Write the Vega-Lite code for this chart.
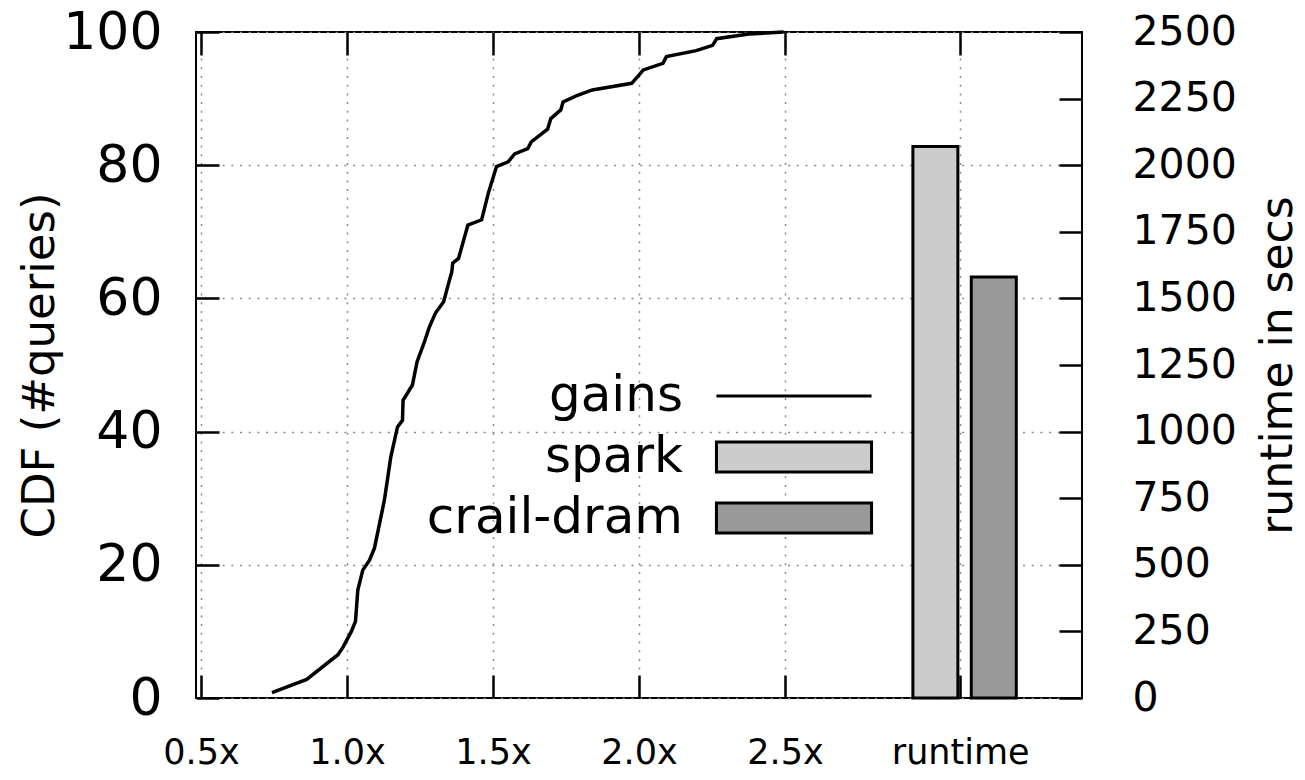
{
  "$schema": "https://vega.github.io/schema/vega-lite/v6.json",
  "width": 886,
  "height": 666,
  "autosize": {"type": "none"},
  "padding": {"left": 196, "top": 32, "right": 223, "bottom": 82},
  "background": "white",
  "config": {
    "font": "DejaVu Sans",
    "view": {"stroke": "black", "strokeWidth": 2},
    "axis": {
      "domain": false,
      "ticks": true,
      "tickColor": "black",
      "tickOpacity": 1,
      "tickWidth": 2.5,
      "gridColor": "#8a8a8a",
      "gridDash": [2, 6.7],
      "gridWidth": 1.5,
      "labelColor": "black",
      "titleColor": "black",
      "titleFontWeight": "normal",
      "labelFont": "DejaVu Sans",
      "titleFont": "DejaVu Sans"
    }
  },
  "datasets": {
    "cdf": [
      {"speedup": 0.743, "cdf": 0.8},
      {"speedup": 0.862, "cdf": 2.8},
      {"speedup": 0.969, "cdf": 6.5},
      {"speedup": 0.986, "cdf": 7.6},
      {"speedup": 1.015, "cdf": 10},
      {"speedup": 1.029, "cdf": 11.5},
      {"speedup": 1.037, "cdf": 16.2},
      {"speedup": 1.054, "cdf": 19.2},
      {"speedup": 1.077, "cdf": 20.7},
      {"speedup": 1.094, "cdf": 22.5},
      {"speedup": 1.128, "cdf": 29.7},
      {"speedup": 1.15, "cdf": 36.2},
      {"speedup": 1.173, "cdf": 40.7},
      {"speedup": 1.19, "cdf": 41.7},
      {"speedup": 1.192, "cdf": 44.7},
      {"speedup": 1.224, "cdf": 47},
      {"speedup": 1.24, "cdf": 50.5},
      {"speedup": 1.263, "cdf": 53.2},
      {"speedup": 1.282, "cdf": 55.7},
      {"speedup": 1.303, "cdf": 57.8},
      {"speedup": 1.331, "cdf": 59.5},
      {"speedup": 1.348, "cdf": 62.3},
      {"speedup": 1.359, "cdf": 64},
      {"speedup": 1.362, "cdf": 65.3},
      {"speedup": 1.382, "cdf": 66},
      {"speedup": 1.414, "cdf": 71},
      {"speedup": 1.461, "cdf": 71.8},
      {"speedup": 1.484, "cdf": 75.8},
      {"speedup": 1.512, "cdf": 79.8},
      {"speedup": 1.552, "cdf": 80.5},
      {"speedup": 1.574, "cdf": 81.7},
      {"speedup": 1.619, "cdf": 82.5},
      {"speedup": 1.631, "cdf": 83.5},
      {"speedup": 1.687, "cdf": 85.4},
      {"speedup": 1.698, "cdf": 87},
      {"speedup": 1.732, "cdf": 88.3},
      {"speedup": 1.74, "cdf": 89.5},
      {"speedup": 1.785, "cdf": 90.4},
      {"speedup": 1.84, "cdf": 91.3},
      {"speedup": 1.975, "cdf": 92.3},
      {"speedup": 2.015, "cdf": 94.3},
      {"speedup": 2.082, "cdf": 95.3},
      {"speedup": 2.094, "cdf": 96.3},
      {"speedup": 2.196, "cdf": 97.2},
      {"speedup": 2.252, "cdf": 98},
      {"speedup": 2.266, "cdf": 99},
      {"speedup": 2.376, "cdf": 99.7},
      {"speedup": 2.495, "cdf": 100}
    ],
    "runtime": [
      {"series": "spark", "pos": 3.015, "runtime": 2070},
      {"series": "crail-dram", "pos": 3.215, "runtime": 1580}
    ]
  },
  "layer": [
    {
      "data": {"name": "cdf"},
      "mark": {"type": "line", "color": "black", "strokeWidth": 3.5},
      "encoding": {
        "x": {
          "field": "speedup",
          "type": "quantitative",
          "scale": {"domain": [0.5, 3.5], "nice": false, "zero": false},
          "axis": {
            "orient": "bottom",
            "title": null,
            "values": [0.5, 1, 1.5, 2, 2.5, 3.1],
            "labelExpr": "datum.value > 3 ? 'runtime' : format(datum.value, '.1f') + 'x'",
            "labelFontSize": 35,
            "labelFlush": false,
            "labelOverlap": false,
            "offset": -23,
            "ticks": true,
            "tickColor": "black",
            "tickSize": 23,
            "labelPadding": 37,
            "grid": true
          }
        },
        "y": {
          "field": "cdf",
          "type": "quantitative",
          "scale": {"domain": [0, 100], "nice": false, "zero": false},
          "axis": {
            "title": "CDF (#queries)",
            "titleFontSize": 45,
            "values": [0, 20, 40, 60, 80, 100],
            "labelFontSize": 52,
            "labelFlush": false,
            "labelOverlap": false,
            "offset": -23,
            "ticks": true,
            "tickColor": "black",
            "tickSize": 23,
            "labelPadding": 34,
            "titlePadding": 0,
            "grid": true
          }
        }
      }
    },
    {
      "mark": {"type": "rule", "color": "black", "strokeWidth": 6},
      "encoding": {"x": {"datum": 1.0, "type": "quantitative", "axis": null}}
    },
    {
      "data": {"name": "runtime"},
      "mark": {"type": "bar", "width": 45, "stroke": "black", "strokeWidth": 3},
      "encoding": {
        "x": {
          "field": "pos",
          "type": "quantitative",
          "axis": {
            "orient": "top",
            "title": null,
            "labels": false,
            "values": [0.5, 1, 1.5, 2, 2.5, 3.1],
            "offset": -23,
            "ticks": true,
            "tickColor": "black",
            "tickSize": 23,
            "grid": false
          }
        },
        "y": {
          "field": "runtime",
          "type": "quantitative",
          "scale": {"domain": [0, 2500], "nice": false, "zero": true},
          "axis": {
            "orient": "right",
            "title": "runtime in secs",
            "titleFontSize": 44,
            "titleAngle": 270,
            "format": "d",
            "values": [0, 250, 500, 750, 1000, 1250, 1500, 1750, 2000, 2250, 2500],
            "labelFontSize": 41,
            "labelFlush": false,
            "labelOverlap": false,
            "offset": -23,
            "ticks": true,
            "tickColor": "black",
            "tickSize": 23,
            "labelPadding": 50,
            "titlePadding": 64,
            "grid": false
          }
        },
        "fill": {
          "field": "series",
          "type": "nominal",
          "scale": {"domain": ["gains", "spark", "crail-dram"], "range": ["black", "#cccccc", "#999999"]},
          "legend": {
            "orient": "none",
            "legendX": 573,
            "legendY": 339,
            "title": null,
            "padding": 0,
            "symbolSize": 900,
            "symbolStrokeColor": "black",
            "symbolStrokeWidth": 3,
            "symbolOpacity": 1,
            "symbolFillColor": "black",
            "labelFontSize": 50,
            "labelColor": "black",
            "labelAlign": "right",
            "labelOffset": -136,
            "labelLimit": 0,
            "rowPadding": 11,
            "encode": {
              "symbols": {
                "update": {
                  "shape": {"signal": "datum.value === 'gains' ? 'M-5.17,0H5.17' : 'M-5.17,-1H5.17V1H-5.17Z'"}
                }
              }
            }
          }
        }
      }
    }
  ],
  "resolve": {"scale": {"y": "independent"}, "axis": {"x": "independent"}}
}
